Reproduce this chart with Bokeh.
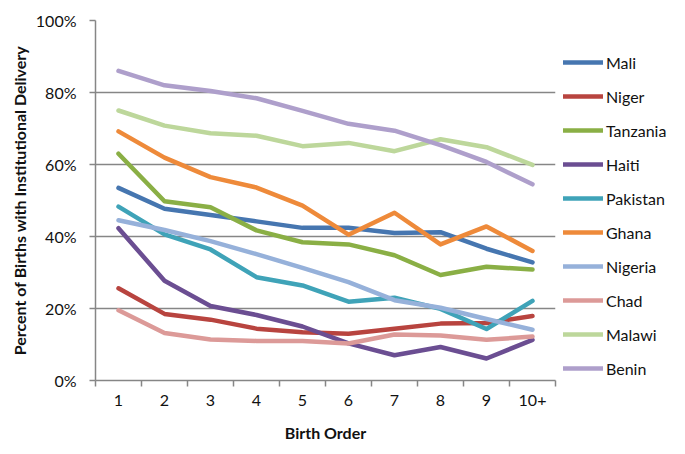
from bokeh.plotting import figure
from bokeh.models import FixedTicker, PrintfTickFormatter, Legend, LegendItem, Range1d
from bokeh.embed import file_html
from bokeh.resources import INLINE

birth_order = [1, 2, 3, 4, 5, 6, 7, 8, 9, 10]
tick_labels = ["1", "2", "3", "4", "5", "6", "7", "8", "9", "10+"]

mali     = [53.5, 47.7, 46.0, 44.2, 42.4, 42.4, 41.0, 41.2, 36.6, 32.8]
niger    = [25.6, 18.5, 16.9, 14.4, 13.4, 13.0, 14.4, 15.8, 16.0, 17.9]
tanzania = [63.0, 49.8, 48.1, 41.7, 38.4, 37.8, 34.8, 29.3, 31.6, 30.8]
haiti    = [42.3, 27.7, 20.7, 18.2, 15.0, 10.3, 7.0, 9.3, 6.1, 11.3]
pakistan = [48.3, 40.6, 36.4, 28.7, 26.4, 21.9, 23.0, 19.9, 14.3, 22.1]
ghana    = [69.2, 61.9, 56.5, 53.6, 48.6, 40.5, 46.6, 37.8, 42.8, 36.0]
nigeria  = [44.5, 41.8, 38.7, 35.1, 31.3, 27.3, 22.3, 20.2, 17.1, 14.1]
chad     = [19.5, 13.2, 11.4, 11.0, 11.0, 10.3, 12.8, 12.5, 11.3, 12.2]
malawi   = [75.0, 70.8, 68.7, 68.0, 65.1, 66.0, 63.7, 67.0, 64.8, 59.9]
benin    = [86.0, 82.0, 80.4, 78.4, 74.9, 71.3, 69.4, 65.4, 60.7, 54.5]

countries = ["Mali", "Niger", "Tanzania", "Haiti", "Pakistan",
             "Ghana", "Nigeria", "Chad", "Malawi", "Benin"]
series = [mali, niger, tanzania, haiti, pakistan, ghana, nigeria, chad, malawi, benin]
colors = ["#4676B0", "#B8443F", "#8AAF45", "#6B4E92", "#3FA3B8",
          "#EE8A3A", "#96B1DA", "#DC9A98", "#BDD79B", "#AE9FCB"]

FONT = "Lato"
FS = "16px"

p = figure(frame_width=460, frame_height=360, output_backend="svg", toolbar_location=None,
           x_range=Range1d(0.5, 10.5), y_range=Range1d(0, 100))
p.min_border_left = 95
p.min_border_right = 0
p.min_border_top = 20
p.min_border_bottom = 70
p.outline_line_color = None
p.background_fill_color = "white"
p.border_fill_color = "white"

items = []
for name, vals, c in zip(countries, series, colors):
    r = p.line(birth_order, vals, line_color=c, line_width=4.5, line_join="round", line_cap="round")
    items.append(LegendItem(label=name, renderers=[r]))

# axes
gray = "#868686"
p.xaxis.ticker = FixedTicker(ticks=birth_order, minor_ticks=[i + 0.5 for i in range(0, 11)])
p.xaxis.major_label_overrides = {b: t for b, t in zip(birth_order, tick_labels)}
p.xaxis.major_tick_out = 0
p.xaxis.major_tick_in = 0
p.xaxis.minor_tick_out = 6
p.xaxis.minor_tick_in = 0
p.xaxis.minor_tick_line_color = gray
p.xaxis.minor_tick_line_width = 1.5
p.xaxis.axis_line_color = gray
p.xaxis.axis_line_width = 1.5
p.xaxis.major_label_standoff = 8
p.xaxis.axis_label = "Birth Order"
p.xaxis.axis_label_standoff = 14

p.yaxis.ticker = FixedTicker(ticks=[0, 20, 40, 60, 80, 100])
p.yaxis.formatter = PrintfTickFormatter(format="%d%%")
p.yaxis.major_tick_out = 6
p.yaxis.major_tick_in = 0
p.yaxis.minor_tick_out = 0
p.yaxis.minor_tick_in = 0
p.yaxis.major_tick_line_color = gray
p.yaxis.major_tick_line_width = 1.5
p.yaxis.axis_line_color = gray
p.yaxis.axis_line_width = 1.5
p.yaxis.major_label_standoff = 13
p.yaxis.axis_label = "Percent of Births with Institutional Delivery"
p.yaxis.axis_label_standoff = 4

for ax in (p.xaxis, p.yaxis):
    ax.major_label_text_font = FONT
    ax.major_label_text_font_size = FS
    ax.major_label_text_color = "#111111"
    ax.axis_label_text_font = FONT
    ax.axis_label_text_font_size = FS
    ax.axis_label_text_font_style = "bold"
    ax.axis_label_text_color = "#111111"

p.xgrid.grid_line_color = None
p.ygrid.ticker = FixedTicker(ticks=[20, 40, 60, 80, 100])
p.ygrid.grid_line_color = gray
p.ygrid.grid_line_width = 1.5

legend = Legend(items=items, location="top_left")
legend.border_line_color = None
legend.background_fill_alpha = 0
legend.padding = 0
legend.margin = 8
legend.title = " "
legend.title_text_font_size = "14px"
legend.title_standoff = 8
legend.glyph_width = 40
legend.glyph_height = 20
legend.label_height = 20
legend.spacing = 14
legend.label_standoff = 3
legend.label_text_font = FONT
legend.label_text_font_size = FS
legend.label_text_color = "#111111"
p.add_layout(legend, "right")

open("out.html", "w").write(file_html(p, INLINE))
